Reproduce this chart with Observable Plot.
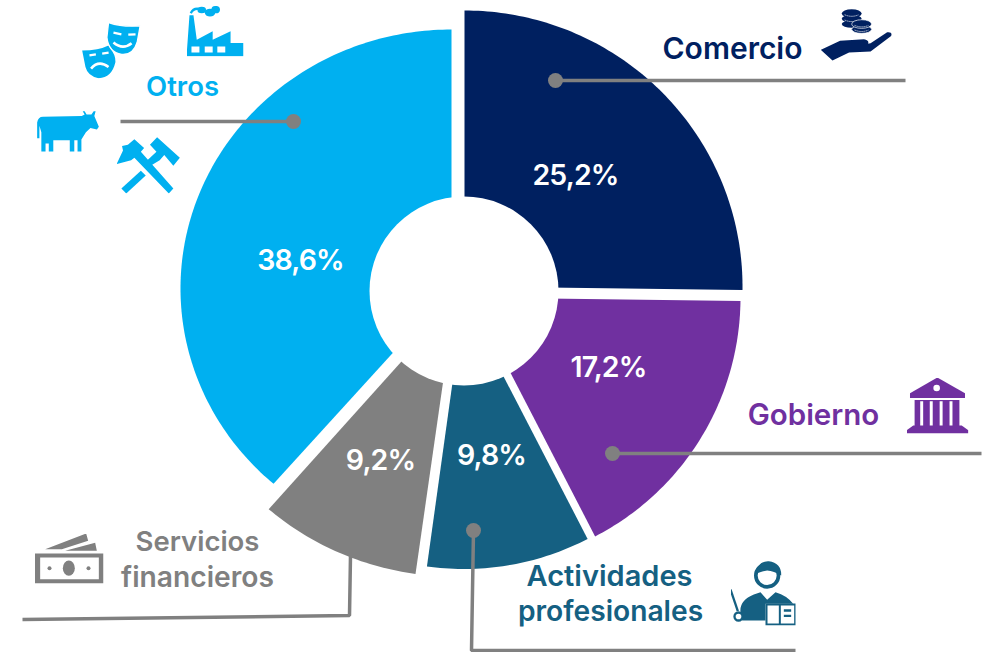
<!DOCTYPE html>
<html><head><meta charset="utf-8">
<script src="https://cdn.jsdelivr.net/npm/d3@7"></script>
<script src="https://cdn.jsdelivr.net/npm/@observablehq/plot@0.6"></script>
<style>
html,body{margin:0;padding:0;background:#fff;overflow:hidden}
svg{display:block}
text{font-family:Inter,sans-serif;font-weight:600}
.pct text{letter-spacing:-.9px}
</style></head><body><div id="chart"></div>
<script>
// Data
const categories = ["Comercio","Gobierno","Actividades profesionales","Servicios financieros","Otros"];
const shares = [25.2,17.2,9.8,9.2,38.6];
const shareLabels = ["25,2%","17,2%","9,8%","9,2%","38,6%"];
const colors = ["#002060","#7030A0","#156082","#808080","#00B0F0"];

// Layout
const sliceCx = [464,471,463.5,454,451];
const sliceCy = [286,297,299.5,302,288];
const sliceRx = [278,269,269,283,271];
const sliceRy = [276,269,269,274,259];
const shareX = [575,608,491,380,300];
const shareY = [175,367,455,460,260];
const labelLines = [
  {t:"Comercio",c:0,x:732,y:49,s:30},
  {t:"Gobierno",c:1,x:813,y:415,s:29.5},
  {t:"Actividades",c:2,x:609,y:576,s:29},
  {t:"profesionales",c:2,x:610,y:611,s:28.2},
  {t:"Servicios",c:3,x:197,y:542,s:27.5},
  {t:"financieros",c:3,x:197,y:577,s:28.2},
  {t:"Otros",c:4,x:182,y:87,s:27.5}
];
const leaders = [
  [[555,80],[905,80]],
  [[612,453],[981,453]],
  [[473,530],[471,650],[795,650]],
  [[350,555],[349,615],[22,619]],
  [[293,121],[120,121]]
];
const leaderDots = [[555,80],[612,453],[473,530],[293,121]];

// Icons
const svgIcon = (vb, color, body) => "data:image/svg+xml;charset=utf-8," + encodeURIComponent(
  `<svg xmlns="http://www.w3.org/2000/svg" viewBox="${vb}" fill="${color}">${body}</svg>`);
const blue="#00B0F0", navy="#002060", purple="#7030A0", teal="#156082", grey="#808080";
const icons = [
 {x:186,y:5,w:57,h:51,src:svgIcon("557 15 172 153",blue,
  `<path d="M557 168L566 44H578L588 118L636 92V118L690 92V128H729V168Z"/>
   <path d="M572 138h24v18h-24zM612 138h24v18h-24zM650 138h24v18h-24z" fill="#fff"/>
   <path d="M570 38Q578 20 600 26" fill="none" stroke="${blue}" stroke-width="7"/>
   <ellipse cx="603" cy="28" rx="13" ry="10"/><ellipse cx="628" cy="36" rx="16" ry="12"/><ellipse cx="645" cy="27" rx="13" ry="11"/>`)},
 {x:81,y:22,w:59,h:56,src:svgIcon("244 65 177 170",blue,
  `<path d="M245 150Q295 150 325 135Q348 165 346 185Q335 233 295 234Q262 228 255 200Z"/>
   <path d="M268 172l18-8M304 157l18-8" stroke="#fff" stroke-width="7" fill="none" transform="rotate(15 295 165)"/>
   <path d="M272 205Q295 178 325 200" stroke="#fff" stroke-width="8" fill="none"/>
   <path d="M325 65Q370 80 421 75L412 125Q400 165 365 162Q325 155 320 110Z" stroke="#fff" stroke-width="4"/>
   <path d="M340 96l24 5M385 102l22 -1" stroke="#fff" stroke-width="7" fill="none"/>
   <path d="M340 126Q368 150 395 128" stroke="#fff" stroke-width="8" fill="none"/>`)},
 {x:35,y:110,w:65,h:42,src:svgIcon("105 328 195 130",blue,
  `<path d="M107 414V365Q110 347 125 347L245 345L254 340L248 330H254L260 340H275L282 330H288L284 345L298 378L292 387L272 382L258 395L244 418V455H232V420H222V455H208V420H157V455H143V430H133V455H120V395L114 375V414Z"/>`)},
 {x:116,y:136,w:64,h:57,src:svgIcon("345 405 197 175",blue,
  `<path d="M400 413L430 440L420 452L520 565L506 580L400 470L390 478L345 490L365 448L362 434L380 430Z"/>
   <path d="M470 407L540 470L520 495L492 462L478 478L450 495L440 478L468 452L448 430Z"/>
   <path d="M420 510L435 525L375 580L360 565Z"/>`)},
 {x:820,y:8,w:72,h:53,src:svgIcon("540 25 215 160",navy,
  `<path d="M540 150L598 122L670 118Q690 122 680 135L640 138L690 130L740 97Q757 95 752 108L690 155L625 158L575 182Z"/>
   <ellipse cx="633" cy="72" rx="30" ry="11"/><ellipse cx="633" cy="56" rx="30" ry="12"/><ellipse cx="633" cy="40" rx="30" ry="13"/>
   <path d="M612 60q21 9 42 0M612 44q21 9 42 0" fill="none" stroke="#fff" stroke-width="3" stroke-dasharray="3 3"/>
   <ellipse cx="663" cy="88" rx="30" ry="12" stroke="#fff" stroke-width="2"/><ellipse cx="663" cy="72" rx="30" ry="13" stroke="#fff" stroke-width="2"/>
   <path d="M642 76q21 9 42 0M642 90q21 9 42 0" fill="none" stroke="#fff" stroke-width="3" stroke-dasharray="3 3"/>`)},
 {x:906,y:377,w:62,h:56,src:svgIcon("528 20 187 170",purple,
  `<path d="M621 20L705 68V82H538V68Z"/><circle cx="619" cy="52" r="10" fill="#fff"/>
   <path d="M552 88h136v82h-136z"/><path d="M528 190V180L548 166H695L715 180V190Z"/>
   <path d="M569 92h9v74h-9zM598 92h9v74h-9zM628 92h9v74h-9zM658 92h9v74h-9z" fill="#fff"/>`)},
 {x:730,y:560,w:65,h:65,src:svgIcon("690 60 195 195",teal,
  `<circle cx="800" cy="105" r="34" fill="#fff" stroke="${teal}" stroke-width="11"/>
   <path d="M766 100Q773 60 805 62Q844 68 842 105Q820 92 800 90Q785 92 766 100Z"/>
   <path d="M720 215Q716 180 760 162L780 155L800 178L825 155Q860 165 878 190H795V240H725Z"/>
   <path d="M690 147L712 212" stroke="${teal}" stroke-width="7" fill="none"/>
   <circle cx="714" cy="228" r="12" fill="#fff" stroke="${teal}" stroke-width="7"/>
   <rect x="798" y="192" width="86" height="60" fill="#fff" stroke="${teal}" stroke-width="6"/>
   <path d="M838 192v60" stroke="${teal}" stroke-width="6"/>
   <path d="M850 210h22M850 226h22" stroke="${teal}" stroke-width="7"/>`)},
 {x:34,y:533,w:69,h:50,src:svgIcon("103 68 207 150",grey,
  `<path d="M135 115L258 68L264 90L185 115ZM195 120L285 96L290 120Z"/>
   <path fill-rule="evenodd" d="M103 128H310V218H103ZM120 140V205H296V140Z"/>
   <ellipse cx="206" cy="172" rx="18" ry="23"/><circle cx="148" cy="172" r="6"/><circle cx="265" cy="172" r="6"/>`)}
];

// Geometry built from the shares
const rows = categories.map((name,i)=>({name,i,share:shares[i],label:shareLabels[i],x:shareX[i],y:shareY[i]}));
const slicePts = [];
let cum = 0;
rows.forEach((r,i)=>{
  const a0 = cum/100*2*Math.PI, a1 = (cum+r.share)/100*2*Math.PI;
  cum += r.share;
  const cx=sliceCx[i], cy=sliceCy[i], rx=sliceRx[i], ry=sliceRy[i];
  slicePts.push({name:r.name,x:cx,y:cy});
  const n=Math.ceil((a1-a0)*60);
  for(let k=0;k<=n;k++){const a=a0+(a1-a0)*k/n;
    slicePts.push({name:r.name,x:cx+rx*Math.sin(a),y:cy-ry*Math.cos(a)});}
});
const leaderPts = leaders.flatMap((l,i)=>l.map(p=>({id:i,x:p[0],y:p[1]})));

const plot = Plot.plot({
  width:990,height:652,margin:0,
  x:{domain:[0,990],range:[0,990],axis:null},
  y:{domain:[0,652],range:[0,652],axis:null},
  color:{domain:categories,range:colors},
  style:{background:"#fff"},
  marks:[
    Plot.line(slicePts,{x:"x",y:"y",z:"name",fill:"name",stroke:"none",curve:"linear"}),
    Plot.dot([{x:463.5,y:290.5}],{x:"x",y:"y",r:94.5,fill:"#fff"}),
    Plot.line(leaderPts,{x:"x",y:"y",z:"id",stroke:"#808080",strokeWidth:3.5,strokeLinejoin:"miter",strokeLinecap:"butt"}),
    Plot.dot(leaderDots,{x:d=>d[0],y:d=>d[1],r:7.5,fill:"#808080"}),
    Plot.text(rows,{x:"x",y:"y",text:"label",fill:"#fff",fontSize:28.5,textAnchor:"middle",lineAnchor:"middle",className:"pct"}),
    Plot.text(labelLines,{x:"x",y:"y",text:"t",fill:d=>categories[d.c],fontSize:"s",textAnchor:"middle",lineAnchor:"middle"}),
    Plot.image(icons,{x:d=>d.x+d.w/2,y:d=>d.y+d.h/2,width:"w",height:"h",src:"src"})
  ]
});
document.getElementById("chart").appendChild(plot);
</script></body></html>
